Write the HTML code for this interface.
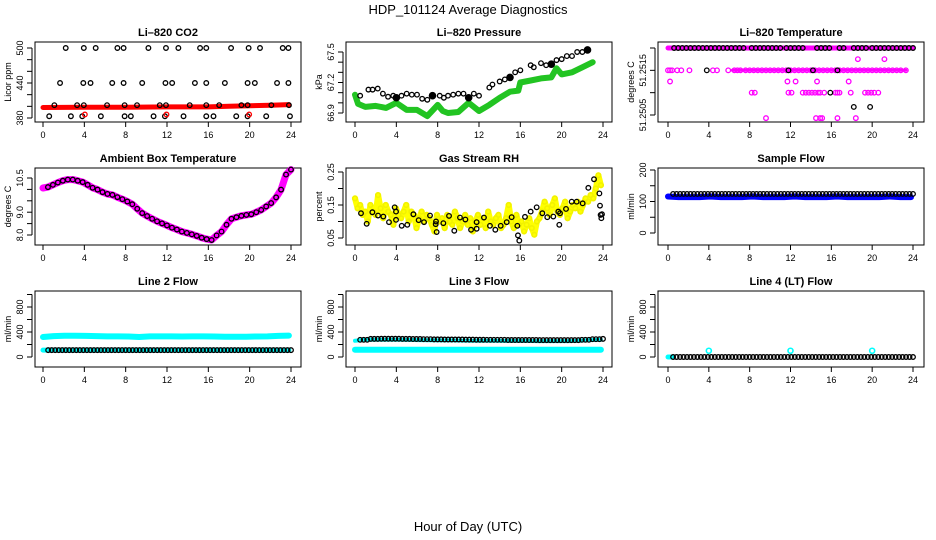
<!DOCTYPE html>
<html><head><meta charset="utf-8"><style>
html,body{margin:0;padding:0;background:#fff;}
svg{display:block;font-family:"Liberation Sans",Arial,sans-serif;}
</style></head><body>
<svg id="chart" width="936" height="540" viewBox="0 0 936 540" xmlns="http://www.w3.org/2000/svg">
<text x="468" y="14" text-anchor="middle" font-size="13">HDP_101124  Average Diagnostics</text>
<text x="468" y="531" text-anchor="middle" font-size="13">Hour of Day (UTC)</text>
</svg>
<script>
// ---------- data ----------
const xTicks = [0,4,8,12,16,20,24];
// CO2
const co2Hi500 = [2.2,3.95,5.1,7.2,7.8,10.2,11.9,13.1,15.2,15.8,18.2,19.9,21.0,23.2,23.75];
const co2Hi440 = [1.65,3.9,4.6,6.7,7.8,9.6,11.85,12.5,14.7,15.8,17.6,19.8,20.5,22.65,23.75];
const co2Mid402 = [1.1,3.3,3.95,6.2,7.9,9.1,11.3,11.9,14.2,15.8,17.05,19.2,19.8,22.1,23.8];
const co2Low383 = [0.6,2.7,3.8,5.6,7.9,8.5,10.7,11.8,13.6,15.8,16.5,18.7,19.8,21.6,23.9];
const co2RedPts = [4.05,11.95,19.95];
const co2BandT = [0,4,8,12,16,18,20,22,23.8];
const co2BandV = [398,398.5,398.5,399,399,400,401,402,403];
// Pressure
const presBlackT = [0.5,1.3,1.7,2.2,2.7,3.2,3.7,4,4.5,5,5.5,6,6.5,7,7.5,8.2,8.6,9,9.5,10,10.5,11,11.5,12,13,13.3,14,14.5,15,15.5,16,17,17.3,18,18.5,19,19.5,20,20.5,21,21.5,22,22.5];
const presBlackV = [67.07,67.13,67.13,67.14,67.09,67.06,67.07,67.05,67.07,67.09,67.08,67.08,67.04,67.03,67.07,67.07,67.05,67.07,67.08,67.09,67.09,67.05,67.09,67.07,67.15,67.18,67.21,67.23,67.25,67.30,67.32,67.37,67.35,67.39,67.37,67.38,67.42,67.43,67.46,67.46,67.50,67.50,67.52];
const presFilledT = [4,7.5,11,15,19,22.5];
const presFilledV = [67.05,67.07,67.05,67.25,67.38,67.52];
const presGreenT = [0,0.3,1,2,3,4,5,6,7,8,8.5,9,10,11,12,13,14,15,15.8,16,17,18,19,19.5,20,21,22,23];
const presGreenV = [67.08,66.99,66.96,66.97,66.95,67.0,66.93,66.93,66.87,66.98,66.92,66.9,66.91,67.0,66.92,66.98,67.05,67.11,67.12,67.2,67.22,67.24,67.25,67.34,67.28,67.3,67.35,67.40];
// Temperature
const tTopBlack = [0.6,1,1.4,1.8,2.2,2.6,3,3.4,3.8,4.2,4.6,5,5.4,5.8,6.2,6.6,7,7.4,8.2,8.6,9,9.4,9.8,10.2,10.6,11,11.6,12,12.4,12.8,13.2,14.6,15,15.4,15.8,16.8,17.2,18.2,18.6,19,19.4,20,20.4,20.8,21.2,21.6,22,22.4,22.8,23.2,23.6,24];
const tMidMag = [0,0.2,0.4,0.9,1.3,2.1,4.4,4.8,5.9,6.5,6.8,7.1,7.6,8,8.4,8.8,9.2,9.6,10,10.4,10.8,11.2,11.6,12,12.4,12.8,13.2,13.6,14,14.4,14.8,15.2,15.6,16,16.4,16.8,17.2,17.6,18,18.4,18.8,19.2,19.6,20,20.4,20.8,21.2,21.6,22,22.4,22.8,23.3];
const tMidBlack = [3.8,11.8,14.2,16.6];
const t175 = [18.6,21.2];
const t1125 = [0.2,11.7,12.5,14.6,17.7];
const t110 = [8.2,8.5,11.8,12.1,13.2,13.5,13.8,14.1,14.4,14.7,14.9,15.3,16.4,16.6,16.8,17.9,19.3,19.6,19.9,20.2,20.6];
const t110Black = [15.9];
const t1068Black = [18.2,19.8];
const t1043 = [9.6,14.5,14.9,15.1,16.6,18.4];
// Ambient
const ambV = [10.06,10.1,10.2,10.3,10.38,10.43,10.43,10.38,10.32,10.2,10.07,9.99,9.88,9.8,9.76,9.66,9.57,9.47,9.35,9.15,8.96,8.83,8.71,8.6,8.51,8.42,8.32,8.24,8.15,8.09,8.03,7.96,7.88,7.82,7.78,7.98,8.15,8.45,8.71,8.78,8.84,8.88,8.91,9.0,9.10,9.25,9.40,9.65,9.99,10.65,10.87];
// RH
const rhBlackT = [0.58,1.13,1.68,2.23,2.74,3.29,3.84,3.97,3.97,4.52,5.06,5.65,6.16,6.68,7.26,7.81,7.84,7.9,8.55,9.1,9.61,10.16,10.68,11.23,11.77,11.77,12.48,13.06,13.58,14.1,14.68,15.16,15.71,15.77,15.9,16.45,17.0,17.58,18.13,18.61,19.19,19.68,19.77,19.84,20.42,20.97,21.45,22.03,22.58,23.13,23.65,23.71,23.77,23.84,23.9];
const rhBlackV = [0.125,0.093,0.128,0.118,0.115,0.098,0.143,0.13,0.105,0.087,0.09,0.122,0.104,0.098,0.118,0.092,0.1,0.068,0.095,0.117,0.072,0.112,0.106,0.075,0.078,0.098,0.112,0.087,0.075,0.087,0.098,0.113,0.087,0.058,0.042,0.114,0.13,0.143,0.125,0.113,0.115,0.13,0.09,0.125,0.138,0.16,0.16,0.155,0.202,0.228,0.185,0.148,0.12,0.11,0.122];
const rhYellow = [0.17,0.14,0.15,0.12,0.13,0.1,0.15,0.13,0.12,0.18,0.14,0.11,0.15,0.13,0.12,0.09,0.14,0.12,0.11,0.13,0.15,0.1,0.13,0.12,0.08,0.11,0.13,0.1,0.12,0.11,0.09,0.07,0.12,0.1,0.11,0.08,0.12,0.1,0.09,0.13,0.11,0.08,0.1,0.12,0.09,0.11,0.07,0.1,0.12,0.09,0.11,0.08,0.13,0.1,0.09,0.11,0.12,0.08,0.09,0.11,0.15,0.1,0.08,0.12,0.09,0.1,0.07,0.09,0.11,0.08,0.06,0.1,0.11,0.13,0.16,0.14,0.12,0.15,0.17,0.13,0.12,0.14,0.16,0.11,0.13,0.15,0.14,0.16,0.13,0.15,0.17,0.16,0.18,0.17,0.2,0.24,0.21];
// Sample flow
const sfBlue = [116,114,114,114,116,114,114,114,116,114,114,114,116,114,114,114,116,114,114,114,114,116,114,114];
const sfBlack = [124,124,124,124,124,124,124,124,124,124,124,124,124,124,124,124,124,124,124,124,124,124,124,124];
// Line flows
const l2Cyan = [320,335,340,340,338,335,330,330,328,320,330,330,330,328,330,330,328,325,325,325,328,330,338,342];
const l2Low = [110,110,110,110,110,110,110,110,110,110,110,110,110,110,110,110,110,110,110,110,110,110,110,110];
const l3Up = [275,290,292,292,290,288,285,282,280,280,278,276,275,275,272,272,272,270,270,270,270,275,285,290];
const l3Low = [117,117,117,117,117,117,117,117,117,117,117,117,117,117,117,117,117,117,117,117,117,117,117,117];
const l4Black = [0,0,0,0,0,0,0,0,0,0,0,0,0,0,0,0,0,0,0,0,0,0,0,0];
const l4SpikeT = [4,12,20];
const l4SpikeV = [100,100,100];

// ---------- drawing ----------
const svg = document.getElementById('chart');
const NS = 'http://www.w3.org/2000/svg';
function mk(tag, attrs, parent){ const e=document.createElementNS(NS,tag); for(const k in attrs) e.setAttribute(k,attrs[k]); (parent||svg).appendChild(e); return e; }
const cols = [{l:35,r:301,x0:43,x24:291},{l:346,r:612,x0:355,x24:603},{l:658,r:924,x0:668,x24:913}];
const rows = [{t:42,b:122},{t:168,b:245},{t:291,b:367}];
function panel(ci,ri,name,title,ylab,a1,p1,a2,p2,ticks,labels){
  const c=cols[ci], r=rows[ri];
  const g=mk('g',{});
  
  
  const xs=h=>c.x0+(h/24)*(c.x24-c.x0);
  const ys=v=>p1+(v-a1)*(p2-p1)/(a2-a1);
  const box=mk('rect',{x:c.l,y:r.t,width:c.r-c.l,height:r.b-r.t,fill:'none',stroke:'#000','stroke-width':1},g);
  
  
  const tt=mk('text',{x:(c.l+c.r)/2,y:r.t-6,'text-anchor':'middle','font-size':11,'font-weight':'bold'},g);
  tt.textContent=title;
  
  
  const xa=mk('g',{},g);
  
  
  mk('line',{x1:xs(0),x2:xs(24),y1:r.b,y2:r.b,stroke:'#000'},xa);
  xTicks.forEach(t=>{
    mk('line',{x1:xs(t),x2:xs(t),y1:r.b,y2:r.b+5,stroke:'#000'},xa);
    const tx=mk('text',{x:xs(t),y:r.b+16,'text-anchor':'middle','font-size':9},xa);
    tx.textContent=t;
    
    
  });
  const ya=mk('g',{},g);
  
  
  const yl=c.l-3;
  mk('line',{x1:yl,x2:yl,y1:ys(ticks[0]),y2:ys(ticks[ticks.length-1]),stroke:'#000'},ya);
  ticks.forEach(t=>{ mk('line',{x1:yl,x2:yl-5,y1:ys(t),y2:ys(t),stroke:'#000'},ya); });
  labels.forEach(t=>{
    const tx=mk('text',{x:0,y:0,'text-anchor':'middle','font-size':9,transform:`translate(${yl-9},${ys(t)}) rotate(-90)`},ya);
    tx.textContent=t;
    
    
  });
  const ylt=mk('text',{x:0,y:0,'text-anchor':'middle','font-size':9,transform:`translate(${c.l-24},${(r.t+r.b)/2}) rotate(-90)`},g);
  ylt.textContent=ylab;
  
  
  const data=mk('g',{},g);
  
  
  return {g:data,xs,ys};
}
function pts(P,ts,vs,color,name,r,sw,fill){
  ts.forEach((t,i)=>{
    const c=mk('circle',{cx:P.xs(t),cy:P.ys(vs[i]),r:r||2.3,fill:fill||'none',stroke:color,'stroke-width':sw||1.3},P.g);
    
    
  });
}
function band(P,ts,vs,color,w,name){
  const d=ts.map((t,i)=>(i?'L':'M')+P.xs(t).toFixed(1)+','+P.ys(vs[i]).toFixed(1)).join(' ');
  const p=mk('path',{d,fill:'none',stroke:color,'stroke-width':w,'stroke-linejoin':'round','stroke-linecap':'round'},P.g);
  
  
}
const rep=(arr,v)=>arr.map(()=>v);
const hourly=n=>Array.from({length:n},(_,i)=>i*23.8/(n-1));
const seq=(n,a,b)=>Array.from({length:n},(_,i)=>a+i*(b-a)/(n-1));

let P=panel(0,0,'co2-panel','Li\u2013820 CO2','Licor ppm',380,118,500,48,[380,400,420,440,460,480,500],[380,440,500]);
band(P,co2BandT,co2BandV,'#f00',5,'co2-band');
pts(P,co2Hi500,rep(co2Hi500,500),'#000','co2-point');
pts(P,co2Hi440,rep(co2Hi440,440),'#000','co2-point');
pts(P,co2Mid402,rep(co2Mid402,402),'#000','co2-point');
pts(P,co2Low383,rep(co2Low383,383),'#000','co2-point');
pts(P,co2RedPts,rep(co2RedPts,386),'#f00','co2-red-point');

P=panel(1,0,'pressure-panel','Li\u2013820 Pressure','kPa',66.9,113,67.5,52,[66.9,67.0,67.1,67.2,67.3,67.4,67.5],['66.9','67.2','67.5']);
band(P,presGreenT,presGreenV,'#22c422',6,'pressure-band');
pts(P,presBlackT,presBlackV,'#000','pressure-point');
pts(P,presFilledT,presFilledV,'#000','pressure-filled-point',3.3,1,'#000');

P=panel(2,0,'temperature-panel','Li\u2013820 Temperature','degrees C',51.2505,115,51.2520,48,[51.2505,51.2510,51.2515,51.2520],['51.2505','51.2515']);
band(P,[0,24],[51.2520,51.2520],'#f0f',5,'temp-top-band');
band(P,[6.3,23.3],[51.2515,51.2515],'#f0f',3,'temp-mid-band');
pts(P,tMidMag,rep(tMidMag,51.2515),'#f0f','temp-point');
pts(P,t175,rep(t175,51.25175),'#f0f','temp-point');
pts(P,t1125,rep(t1125,51.25125),'#f0f','temp-point');
pts(P,t110,rep(t110,51.2510),'#f0f','temp-point');
pts(P,t1043,rep(t1043,51.25043),'#f0f','temp-point');
pts(P,tTopBlack,rep(tTopBlack,51.2520),'#000','temp-black-point');
pts(P,tMidBlack,rep(tMidBlack,51.2515),'#000','temp-black-point');
pts(P,t110Black,rep(t110Black,51.2510),'#000','temp-black-point');
pts(P,t1068Black,rep(t1068Black,51.25068),'#000','temp-black-point');

P=panel(0,1,'ambient-temp-panel','Ambient Box Temperature','degrees C',8.0,235,10.5,178,[8.0,8.5,9.0,9.5,10.0,10.5],['8.0','9.0','10.5']);
const ambT=seq(ambV.length,0,24);
band(P,ambT,ambV,'#f0f',7,'ambient-band');
pts(P,ambT.slice(1),ambV.slice(1),'#000','ambient-point');

P=panel(1,1,'rh-panel','Gas Stream RH','percent',0.05,238,0.25,172,[0.05,0.10,0.15,0.20,0.25],['0.05','0.15','0.25']);
const rhT=seq(rhYellow.length,0,23.8);
band(P,rhT,rhYellow,'#ffff00',6,'rh-band');
pts(P,rhT,rhYellow,'#f2f200','rh-yellow-point',2.3,1.6);
pts(P,rhBlackT,rhBlackV,'#000','rh-point');

P=panel(2,1,'sample-flow-panel','Sample Flow','ml/min',0,233,200,170,[0,50,100,150,200],[0,100,200]);
band(P,hourly(sfBlue.length),sfBlue,'#00f',6,'sample-flow-band');
const sfT=seq(sfBlack.length*3-2,0.5,24);
pts(P,sfT,sfT.map((_,i)=>sfBlack[Math.floor(i/3)]),'#000','sample-flow-point');

P=panel(0,2,'line2-flow-panel','Line 2 Flow','ml/min',0,357,800,307,[0,200,400,600,800,1000],[0,400,800]);
band(P,hourly(l2Cyan.length),l2Cyan,'#00ffff',6,'line2-band');
band(P,hourly(l2Low.length),l2Low,'#00ffff',5,'line2-low-band');
const l2T=seq(l2Low.length*3-2,0.5,24);
pts(P,l2T,l2T.map((_,i)=>l2Low[Math.floor(i/3)]),'#000','line2-point');

P=panel(1,2,'line3-flow-panel','Line 3 Flow','ml/min',0,357,800,307,[0,200,400,600,800,1000],[0,400,800]);
band(P,hourly(l3Up.length),l3Up.map(v=>v-15),'#00ffff',4,'line3-upper-band');
band(P,hourly(l3Low.length),l3Low,'#00ffff',6,'line3-low-band');
const l3T=seq(l3Up.length*3-2,0.5,24);
pts(P,l3T,l3T.map((_,i)=>l3Up[Math.floor(i/3)]),'#000','line3-point');

P=panel(2,2,'line4-flow-panel','Line 4 (LT) Flow','ml/min',0,357,800,307,[0,200,400,600,800,1000],[0,400,800]);
band(P,[0,0.4],[0,0],'#00ffff',5,'line4-start');
const l4T=seq(l4Black.length*3-2,0.5,24);
pts(P,l4T,l4T.map((_,i)=>l4Black[Math.floor(i/3)]),'#000','line4-point');
pts(P,l4SpikeT,l4SpikeV,'#00ffff','line4-spike-point',2.5,1.6);
</script>
</body></html>
